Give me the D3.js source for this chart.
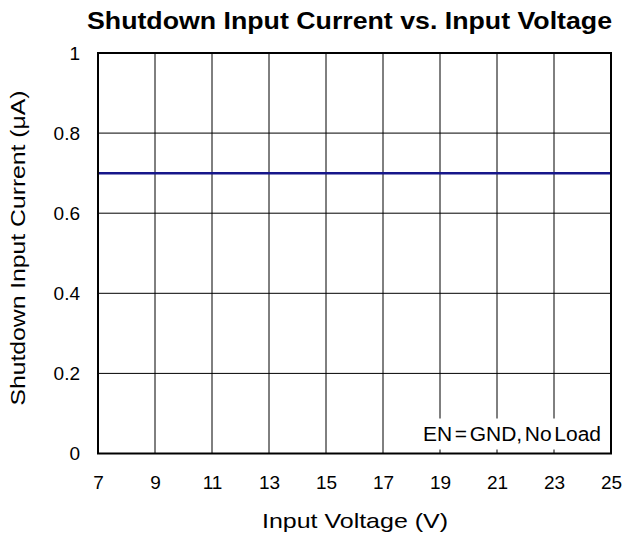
<!DOCTYPE html>
<html>
<head>
<meta charset="utf-8">
<script src="https://cdn.jsdelivr.net/npm/d3@7"></script>
<style>
  body { margin: 0; background: #fff; }
  text { font-family: "Liberation Sans", Arial, sans-serif; fill: #000; }
</style>
</head>
<body>
<div id="chart"></div>
<script>
// data
var voltage = [7, 9, 11, 13, 15, 17, 19, 21, 23, 25];
var current = [0.7, 0.7, 0.7, 0.7, 0.7, 0.7, 0.7, 0.7, 0.7, 0.7];
var yTicks = [0, 0.2, 0.4, 0.6, 0.8, 1];
var yTickLabels = ["0", "0.2", "0.4", "0.6", "0.8", "1"];

var margin = {top: 53, right: 11, bottom: 80.5, left: 98},
    width = 622 - margin.left - margin.right,
    height = 534 - margin.top - margin.bottom;

var x = d3.scaleLinear().domain([7, 25]).range([0, width]);
var y = d3.scaleLinear().domain([0, 1]).range([height, 0]);

var svg = d3.select("#chart").append("svg")
    .attr("width", 622)
    .attr("height", 534);

var g = svg.append("g")
    .attr("transform", "translate(" + margin.left + "," + margin.top + ")");

// grid
g.selectAll(".vgrid").data(voltage).enter().append("line")
    .attr("x1", function(d) { return x(d); })
    .attr("x2", function(d) { return x(d); })
    .attr("y1", 0).attr("y2", height)
    .attr("stroke", "#000").attr("stroke-width", 1);

g.selectAll(".hgrid").data(yTicks).enter().append("line")
    .attr("x1", 0).attr("x2", width)
    .attr("y1", function(d) { return y(d); })
    .attr("y2", function(d) { return y(d); })
    .attr("stroke", "#000").attr("stroke-width", 1);

// note box
var note = g.append("g");
note.append("rect")
    .attr("x", width - 190).attr("y", height - 35)
    .attr("width", 187).attr("height", 31)
    .attr("fill", "#fff");
note.append("text")
    .attr("x", width - 188)
    .attr("y", height - 13)
    .attr("textLength", 178)
    .attr("lengthAdjust", "spacingAndGlyphs")
    .style("font-size", "20px")
    .style("word-spacing", "-3px")
    .text("EN = GND, No Load");

// line
var line = d3.line()
    .x(function(d, i) { return x(voltage[i]); })
    .y(function(d) { return y(d); });

g.append("path")
    .datum(current)
    .attr("d", line)
    .attr("fill", "none")
    .attr("stroke", "#16168a")
    .attr("stroke-width", 2.5);

// frame
g.append("rect")
    .attr("width", width).attr("height", height)
    .attr("fill", "none")
    .attr("stroke", "#000").attr("stroke-width", 2);

// axes
var xAxis = g.append("g")
    .attr("transform", "translate(0," + height + ")")
    .call(d3.axisBottom(x).tickValues(voltage).tickSize(0).tickPadding(22));
xAxis.select(".domain").remove();
xAxis.selectAll("text").style("font-size", "19px").style("font-family", "Liberation Sans, Arial, sans-serif").attr("fill", "#000");

var yAxis = g.append("g")
    .call(d3.axisLeft(y).tickValues(yTicks).tickSize(0).tickPadding(18)
      .tickFormat(function(d, i) { return yTickLabels[i]; }));
yAxis.select(".domain").remove();
yAxis.selectAll("text").style("font-size", "19px").style("font-family", "Liberation Sans, Arial, sans-serif").attr("fill", "#000");

// titles
svg.append("text")
    .attr("x", 349.5).attr("y", 29)
    .attr("text-anchor", "middle")
    .attr("textLength", 525)
    .attr("lengthAdjust", "spacingAndGlyphs")
    .style("font-size", "24px")
    .style("font-weight", "bold")
    .text("Shutdown Input Current vs. Input Voltage");

svg.append("text")
    .attr("x", 355).attr("y", 528)
    .attr("text-anchor", "middle")
    .attr("textLength", 186)
    .attr("lengthAdjust", "spacingAndGlyphs")
    .style("font-size", "21px")
    .text("Input Voltage (V)");

svg.append("text")
    .attr("transform", "rotate(-90)")
    .attr("x", -248).attr("y", 25)
    .attr("text-anchor", "middle")
    .attr("textLength", 315)
    .attr("lengthAdjust", "spacingAndGlyphs")
    .style("font-size", "21px")
    .text("Shutdown Input Current (μA)");
</script>
</body>
</html>
